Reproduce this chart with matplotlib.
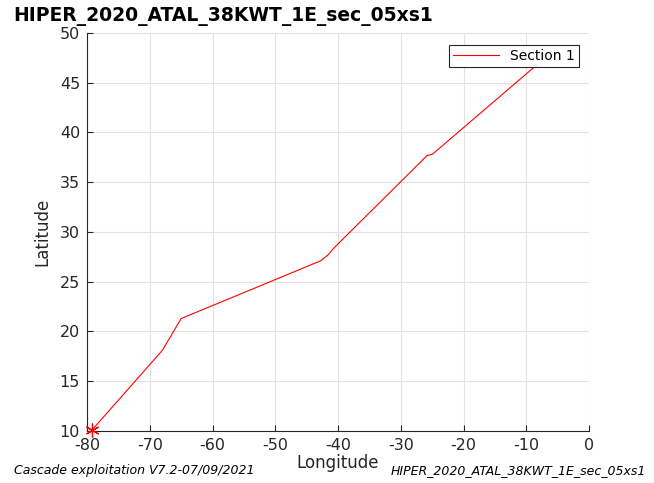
import matplotlib
matplotlib.use('Agg')
import matplotlib.pyplot as plt

plt.rcParams['axes.unicode_minus'] = False

# track points of section 1 (longitude, latitude)
lon = [-79.2, -68.0, -65.0, -42.8, -41.6, -40.8, -39.7, -25.8, -25.0, -6.5]
lat = [10.1, 18.1, 21.3, 27.1, 27.7, 28.3, 29.0, 37.7, 37.8, 47.8]

titre = 'HIPER_2020_ATAL_38KWT_1E_sec_05xs1'
version = 'Cascade exploitation V7.2-07/09/2021'

fig = plt.figure(figsize=(6.54, 4.83), dpi=100)
ax = fig.add_axes([0.133, 0.1077, 0.768, 0.824])

ax.plot(lon, lat, color='red', linewidth=0.8, label='Section 1')
# point de depart
ax.plot(lon[0], lat[0], marker=(6, 2, 0), color='red', markersize=10,
        markeredgewidth=0.9, linestyle='none', clip_on=False, zorder=5)

ax.set_xlim(-80, 0)
ax.set_ylim(10, 50)
ax.set_xticks(range(-80, 1, 10))
ax.set_yticks(range(10, 51, 5))
ax.grid(True, color='#e3e3e3', linewidth=0.8)
ax.set_axisbelow(True)
for s in ['top', 'right']:
    ax.spines[s].set_visible(False)
for s in ['left', 'bottom']:
    ax.spines[s].set_color('#262626')
    ax.spines[s].set_linewidth(0.8)
ax.tick_params(direction='in', length=4, labelsize=11.5, colors='#262626', pad=5)

ax.set_xlabel('Longitude', fontsize=12, color='#262626', labelpad=1)
ax.set_ylabel('Latitude', fontsize=12, color='#262626', labelpad=6)

leg = ax.legend(loc='upper right', fontsize=10, fancybox=False, framealpha=1,
                edgecolor='#262626', handlelength=3.3, borderpad=0.3,
                bbox_to_anchor=(0.993, 0.988))
leg.get_frame().set_linewidth(0.8)
for h in leg.get_lines():
    h.set_color('red')
    h.set_linewidth(0.8)

fig.text(0.021, 0.965, titre, fontsize=13.5, fontweight='bold', va='center', ha='left')
fig.text(0.021, 0.025, version, fontsize=9, style='italic', va='center', ha='left')
fig.text(0.988, 0.025, titre, fontsize=9, style='italic', va='center', ha='right')

fig.savefig('out.png', dpi=100)
